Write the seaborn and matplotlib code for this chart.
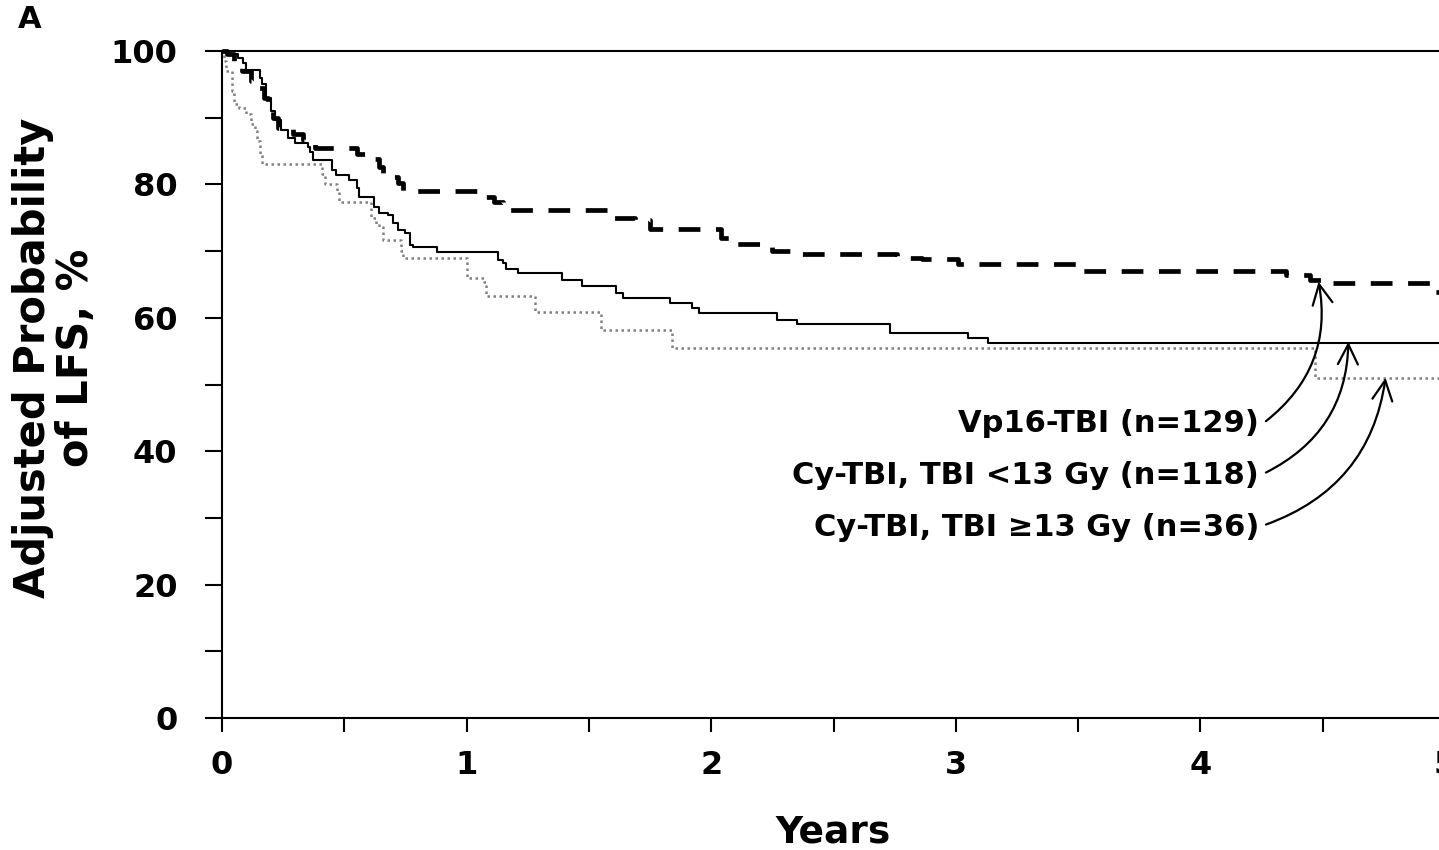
import numpy as np
import pandas as pd
import matplotlib
matplotlib.use("Agg")
import matplotlib.pyplot as plt
import seaborn as sns

# ---------------- data ----------------
vp16_t = [0, 0.02, 0.05, 0.08, 0.12, 0.15, 0.17, 0.19, 0.21, 0.23, 0.29, 0.33, 0.38,
          0.55, 0.60, 0.64, 0.66, 0.72, 0.74, 1.07, 1.11, 1.15, 1.59, 1.69, 1.75,
          2.04, 2.08, 2.25, 2.33, 2.76, 2.86, 3.01, 3.50, 4.35, 4.45, 4.54, 4.94, 5.0]
vp16_s = [100, 99.5, 98.5, 97, 95.5, 94.5, 93, 91.5, 90, 88.5, 87.5, 86.7, 85.5,
          84.5, 83.8, 82.6, 81.1, 80.2, 79, 78.1, 77.4, 76.2, 75, 74.7, 73.3,
          72, 71, 70, 69.6, 69, 68.8, 68.1, 67, 66.4, 65.7, 65.2, 63.9, 63.9]

cylow_t = [0, 0.03, 0.065, 0.085, 0.10, 0.155, 0.165, 0.18, 0.20, 0.215, 0.24, 0.27,
           0.30, 0.35, 0.36, 0.37, 0.45, 0.465, 0.52, 0.55, 0.56, 0.62, 0.64, 0.68,
           0.70, 0.72, 0.75, 0.77, 0.78, 0.88, 1.13, 1.15, 1.16, 1.21, 1.39, 1.47,
           1.61, 1.64, 1.83, 1.92, 1.95, 2.27, 2.35, 2.73, 3.05, 3.13, 5.0]
cylow_s = [100, 99.6, 99, 98.2, 97.2, 96, 95, 93, 91, 89.7, 88.2, 87,
           86.2, 85.6, 84.9, 83.7, 82.2, 81.4, 80.7, 79.5, 78.1, 76.6, 75.7, 75.4,
           74.2, 73.2, 72.7, 70.9, 70.6, 69.9, 68.7, 68.2, 67.3, 66.7, 65.7, 64.8,
           63.7, 63, 62.2, 61.5, 60.7, 59.7, 59, 57.7, 57, 56.2, 56.2]

cyhigh_t = [0, 0.01, 0.015, 0.04, 0.05, 0.07, 0.10, 0.12, 0.135, 0.145, 0.155, 0.165,
            0.41, 0.42, 0.47, 0.48, 0.61, 0.63, 0.64, 0.66, 0.73, 0.74, 1.0, 1.07,
            1.08, 1.28, 1.55, 1.84, 4.47, 5.0]
cyhigh_s = [100, 98.5, 97, 94, 92, 91.5, 90.5, 89, 88, 86.5, 84.5, 83,
            81.5, 80, 79, 77.4, 75, 74, 73.6, 71.7, 70, 69, 66, 65.4,
            63.3, 60.9, 58.2, 55.5, 51, 51]

labels = ["Vp16-TBI (n=129)", "Cy-TBI, TBI <13 Gy (n=118)", "Cy-TBI, TBI \u226513 Gy (n=36)"]
label_pos_y = [44.1, 36.4, 28.6]
arrow_tips = [(4.483, 65.4), (4.605, 56.4), (4.757, 51.0)]

x_ticks = [0, 1, 2, 3, 4, 5]
y_ticks = [0, 20, 40, 60, 80, 100]

df = pd.concat([
    pd.DataFrame({"t": vp16_t, "s": vp16_s, "g": labels[0]}),
    pd.DataFrame({"t": cylow_t, "s": cylow_s, "g": labels[1]}),
    pd.DataFrame({"t": cyhigh_t, "s": cyhigh_s, "g": labels[2]}),
])

# ---------------- style ----------------
sns.set_theme(style="ticks")
plt.rcParams["font.family"] = ["DejaVu Sans"]
plt.rcParams["font.weight"] = "bold"
for k in ["text.color", "axes.labelcolor", "xtick.color", "ytick.color", "axes.edgecolor"]:
    plt.rcParams[k] = "black"

fig = plt.figure(figsize=(14.39, 8.5), dpi=100)
ax = fig.add_axes([222 / 1439, 132 / 850, (1445 - 222) / 1439, (718 - 51) / 850])

styles = {
    labels[0]: dict(color="black", linewidth=3.4, linestyle=(0, (4.6, 3.3))),
    labels[1]: dict(color="black", linewidth=1.5, linestyle="-"),
    labels[2]: dict(color="#808080", linewidth=1.8, linestyle=(0, (1, 1.4))),
}
for g in [labels[2], labels[1], labels[0]]:
    sub = df[df["g"] == g]
    sns.lineplot(data=sub, x="t", y="s", ax=ax, drawstyle="steps-post",
                 estimator=None, sort=False, legend=False, clip_on=False, **styles[g])

ax.set_xlim(0, 5)
ax.set_ylim(0, 100)

ax.set_xticks(x_ticks)
ax.set_xticklabels([str(v) for v in x_ticks])
ax.set_xticks(np.arange(0.5, 5, 1.0), minor=True)
ax.set_yticks(y_ticks)
ax.set_yticklabels([str(v) for v in y_ticks])
ax.set_yticks(np.arange(10, 100, 20), minor=True)

ax.tick_params(axis="x", which="both", direction="out", length=10, width=1.5,
               color="black", pad=13, labelsize=23)
ax.tick_params(axis="y", which="both", direction="out", length=12, width=1.5,
               color="black", pad=20, labelsize=23)
for lab in ax.get_xticklabels() + ax.get_yticklabels():
    lab.set_fontweight("bold")

for side in ["left", "bottom", "top"]:
    ax.spines[side].set_visible(True)
    ax.spines[side].set_color("black")
    ax.spines[side].set_linewidth(1.5)
ax.spines["right"].set_visible(False)

ax.set_xlabel("Years", fontsize=27, fontweight="bold", labelpad=24)
ax.set_ylabel("Adjusted Probability\nof LFS, %", fontsize=30, fontweight="bold",
              linespacing=1.05)
ax.yaxis.set_label_coords(-0.102, 0.54)

# annotations
for lab, ly, tip in zip(labels, label_pos_y, arrow_tips):
    ax.text(4.24, ly, lab, ha="right", va="center", fontsize=22, fontweight="bold")
    ax.annotate("", xy=tip, xytext=(4.268, ly + 0.4),
                arrowprops=dict(arrowstyle="->,head_length=0.8,head_width=0.4",
                                connectionstyle="arc3,rad=0.3", color="black",
                                linewidth=1.6, mutation_scale=18,
                                shrinkA=0, shrinkB=0))

fig.text(18 / 1439, 1 - 28 / 850, "A", fontsize=22, fontweight="bold",
         ha="left", va="baseline")

fig.savefig("out.png", dpi=100)
